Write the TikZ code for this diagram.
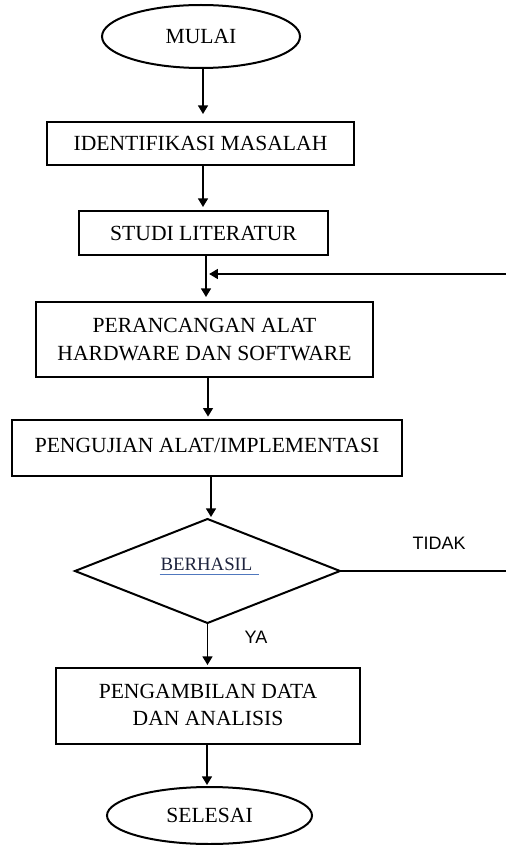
\documentclass[tikz,border=0pt]{standalone}
\usepackage{fontspec}
\setmainfont{Liberation Serif}
\newfontfamily\arialfont{Liberation Sans}
\usetikzlibrary{shapes.geometric,arrows.meta}
\definecolor{berhasiltext}{RGB}{30,36,62}
\definecolor{ulblue}{RGB}{80,120,190}
\begin{document}
\begin{tikzpicture}[x=0.5pt,y=-0.5pt,
  every node/.style={inner sep=0pt,outer sep=0pt},
  boxstyle/.style={draw,line width=1pt,rectangle,align=center,font=\fontsize{10.8}{14}\selectfont},
  termstyle/.style={draw,line width=1pt,ellipse,font=\fontsize{10.8}{14}\selectfont},
  decstyle/.style={draw,line width=1pt,diamond},
  arr/.style={line width=0.65pt,-{Triangle[length=4.3pt,width=5pt]}},
  plainline/.style={line width=0.65pt},
  lbl/.style={font=\arialfont\fontsize{9}{11}\selectfont}
]
\useasboundingbox (0,0) rectangle (506,845);

\node[termstyle,minimum width=99pt,minimum height=31.5pt] (mulai) at (201,36.5) {MULAI};
\node[boxstyle,minimum width=153.5pt,minimum height=21.5pt] (ident) at (200.5,143.5) {IDENTIFIKASI MASALAH};
\node[boxstyle,minimum width=124.5pt,minimum height=22pt] (studi) at (203.5,233) {STUDI LITERATUR};
\node[boxstyle,minimum width=168.5pt,minimum height=37.5pt] (peran) at (204.5,339.5) {PERANCANGAN ALAT\\HARDWARE DAN SOFTWARE};
\node[boxstyle,minimum width=195pt,minimum height=28pt] (peng) at (207,448) {\raisebox{3pt}{PENGUJIAN ALAT/IMPLEMENTASI}};
\node[decstyle,minimum width=132.5pt,minimum height=52pt] (dia) at (207.5,571) {};
\node[font=\fontsize{9.4}{11}\selectfont,text=berhasiltext,anchor=base] (ber) at (206.5,570) {BERHASIL};
\node[boxstyle,minimum width=152pt,minimum height=38pt] (ambil) at (208,706) {\raisebox{1.3pt}{\begin{tabular}{@{}c@{}}PENGAMBILAN DATA\\[-0.6pt]DAN ANALISIS\end{tabular}}};
\node[termstyle,minimum width=102.5pt,minimum height=28.5pt] (selesai) at (209.5,815.5) {SELESAI};

\node[lbl] (tidak) at (439,543) {TIDAK};
\node[lbl] (ya) at (256,637) {YA};

\coordinate (fbstart) at (506,274);
\coordinate (tidakend) at (506,571);

% underline of BERHASIL
\draw[ulblue,line width=0.6pt] ([yshift=-2.2pt,xshift=-0.5pt]ber.base west) -- ([yshift=-2.2pt,xshift=3.5pt]ber.base east);

\draw[arr,shorten >=4pt] ([xshift=1pt]mulai.south) -- ([xshift=1pt]mulai.south |- ident.north);
\draw[arr,shorten >=2pt] ([xshift=1.25pt]ident.south) -- ([xshift=1.25pt]ident.south |- studi.north);
\draw[arr,shorten >=2.5pt] ([xshift=1.25pt]studi.south) -- ([xshift=1.25pt]studi.south |- peran.north);
\draw[arr,shorten >=1.7pt] ([xshift=1.75pt]peran.south) -- ([xshift=1.75pt]peran.south |- peng.north);
\draw[arr,shorten >=1pt] ([xshift=2pt]peng.south) -- ([xshift=2pt]peng.south |- dia.north);
\draw[arr,shorten >=1.5pt] (dia.south) -- (dia.south |- ambil.north);
\draw[arr,shorten >=1pt] ([xshift=-0.5pt]ambil.south) -- ([xshift=-0.5pt]ambil.south |- selesai.north);

\draw[arr,shorten >=1.6pt] (fbstart) -- ([xshift=1.25pt]fbstart -| studi.south);
\draw[plainline] (dia.east) -- (tidakend);
\end{tikzpicture}
\end{document}
